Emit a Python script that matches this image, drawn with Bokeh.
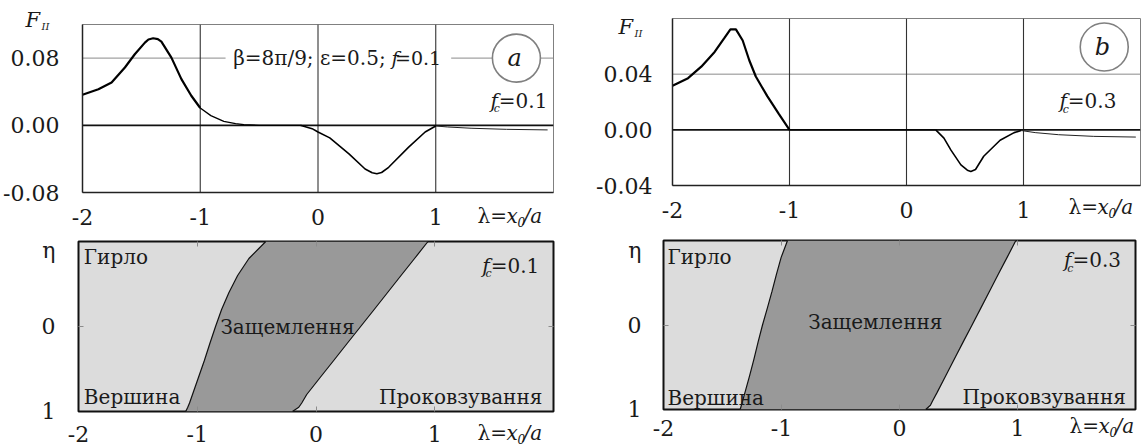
from bokeh.plotting import figure
from bokeh.models import Range1d, FixedTicker, LinearAxis, Span, BoxAnnotation, Label, GridBox
from bokeh.embed import file_html
from bokeh.resources import INLINE

TXT = "#1a1a1a"
FONT = "DejaVu Serif"
TICK_SIZE = "22px"

# ---------------- data ----------------
x_ticks = [-2, -1, 0, 1]
x_tick_labels = {-2: "-2", -1: "-1", 0: "0", 1: "1"}

ya_ticks = [-0.08, 0.0, 0.08]
ya_labels = {-0.08: "-0.08", 0.0: "0.00", 0.08: "0.08"}
yb_ticks = [-0.04, 0.0, 0.04]
yb_labels = {-0.04: "-0.04", 0.0: "0.00", 0.04: "0.04"}

# panel a (f_c = 0.1)
a_peak_x = [-2.0, -1.865, -1.753, -1.64, -1.556, -1.47, -1.44, -1.40, -1.36, -1.33, -1.245, -1.16, -1.076, -1.0]
a_peak_F = [0.0364, 0.043, 0.051, 0.0688, 0.0846, 0.0984, 0.1022, 0.1036, 0.1025, 0.0996, 0.0806, 0.055, 0.0352, 0.0206]
a_decay_x = [-1.0, -0.91, -0.80, -0.70, -0.63, -0.5, -0.3, -0.15]
a_decay_F = [0.0206, 0.0115, 0.0047, 0.002, 0.0008, 0.0, 0.0, 0.0]
a_dip_x = [-0.15, -0.05, 0.0, 0.1, 0.263, 0.40, 0.46, 0.5, 0.54, 0.60, 0.77, 0.91, 1.0]
a_dip_F = [0.0, -0.004, -0.008, -0.015, -0.034, -0.052, -0.0565, -0.0576, -0.0562, -0.050, -0.026, -0.008, -0.0008]
a_tail_x = [1.0, 1.1, 1.3, 1.6, 1.95]
a_tail_F = [-0.0008, -0.002, -0.0035, -0.0048, -0.0055]

# panel b (f_c = 0.3)
b_peak_x = [-2.0, -1.867, -1.754, -1.64, -1.556, -1.505, -1.458, -1.40, -1.344, -1.288, -1.19, -1.09, -1.0]
b_peak_F = [0.0317, 0.0371, 0.0454, 0.056, 0.066, 0.0722, 0.0722, 0.0642, 0.050, 0.0383, 0.0242, 0.0113, 0.0]
b_flat_x = [-1.0, 0.25]
b_flat_F = [0.0, 0.0]
b_dip_x = [0.25, 0.32, 0.38, 0.465, 0.52, 0.55, 0.59, 0.66, 0.80, 0.92, 0.98]
b_dip_F = [0.0, -0.006, -0.0146, -0.0252, -0.0290, -0.0299, -0.0285, -0.019, -0.0075, -0.002, -0.0005]
b_tail_x = [0.98, 1.1, 1.3, 1.6, 1.96]
b_tail_F = [-0.0005, -0.002, -0.0035, -0.0047, -0.0052]

# contact zones (eta = -1 at the top, 1 at the bottom)
eta = [-1.0, -0.8, -0.6, -0.4, -0.2, 0.0, 0.2, 0.4, 0.6, 0.8, 0.9, 0.95, 1.0]
c_left = [-0.423, -0.565, -0.66, -0.733, -0.795, -0.846, -0.894, -0.94, -0.99, -1.04, -1.065, -1.08, -1.097]
c_right = [0.943, 0.83, 0.716, 0.603, 0.49, 0.376, 0.262, 0.149, 0.035, -0.078, -0.12, -0.145, -0.199]
d_left = [-0.949, -1.003, -1.043, -1.08, -1.12, -1.161, -1.198, -1.233, -1.27, -1.31, -1.33, -1.34, -1.35]
d_right = [0.986, 0.912, 0.837, 0.763, 0.689, 0.615, 0.540, 0.466, 0.392, 0.318, 0.280, 0.262, 0.222]
eta_ticks = [-1, 0, 1]
eta_labels = {-1: "η", 0: "0", 1: "1"}


# ---------------- helpers ----------------
def lab(p, x, y, text, size=20, style="normal", align="left", baseline="middle", xo=0, yo=0, color=TXT):
    p.add_layout(Label(x=x, y=y, text=text, text_font=FONT, text_font_size=f"{size}px",
                       text_font_style=style, text_align=align, text_baseline=baseline,
                       x_offset=xo, y_offset=yo, text_color=color))


def fc_label(p, x, y, val):
    lab(p, x, y, "f", style="italic", align="right", xo=-1)
    lab(p, x, y, "c", size=11, style="italic", align="right", xo=1, yo=-8)
    lab(p, x, y, "=" + val)


def no_align(p):
    if "frame_align" in p.properties():
        p.frame_align = False


def base_fig(w, h, l, r, t, b, yr, minor=None):
    p = figure(width=w, height=h, min_border_left=l, min_border_right=r,
               min_border_top=t, min_border_bottom=b, x_range=Range1d(-2, 2), y_range=yr,
               output_backend="svg", toolbar_location=None, tools="")
    no_align(p)
    p.xgrid.visible = False
    p.ygrid.visible = False
    p.border_fill_color = "white"
    for ax in (p.xaxis[0], p.yaxis[0]):
        ax.major_label_text_font = FONT
        ax.major_label_text_font_size = TICK_SIZE
        ax.major_label_text_color = TXT
        ax.minor_tick_line_color = None
    p.xaxis.ticker = FixedTicker(ticks=x_ticks, minor_ticks=minor or [])
    p.xaxis.major_label_overrides = x_tick_labels
    return p


def top_fig(w, h, l, r, t, b, ylo, yhi, yt, yl, ygrid, xs, ys):
    p = base_fig(w, h, l, r, t, b, Range1d(ylo, yhi))
    p.yaxis.ticker = FixedTicker(ticks=yt)
    p.yaxis.major_label_overrides = yl
    for ax in (p.xaxis[0], p.yaxis[0]):
        ax.major_tick_line_color = None
        ax.axis_line_color = "#222222"
        ax.axis_line_width = 1.5
    p.xaxis.major_label_standoff = xs
    p.yaxis.major_label_standoff = ys
    p.outline_line_color = "#808080"
    p.outline_line_width = 1
    p.add_layout(Span(location=ygrid, dimension="width", line_color="#8a8a8a", line_width=1, level="underlay"))
    return p


def add_vlines(p):
    for xv in (-1, 0, 1):
        p.add_layout(Span(location=xv, dimension="height", line_color="#333333", line_width=1.1, level="underlay"))
    p.add_layout(Span(location=0, dimension="width", line_color="#111111", line_width=1.8, level="underlay"))


# ---------------- panel a ----------------
pa = top_fig(593, 237, 79, 40, 24, 45, -0.08, 0.12, ya_ticks, ya_labels, 0.08, 10, 17)
pa.add_layout(BoxAnnotation(left=-0.785, right=1.131, bottom=0.0646, top=0.0954,
                            fill_color="white", fill_alpha=1.0, line_color=None, level="underlay"))
add_vlines(pa)
pa.line(a_peak_x, a_peak_F, line_color="black", line_width=2.2)
pa.line(a_decay_x, a_decay_F, line_color="black", line_width=1.3)
pa.line(a_dip_x, a_dip_F, line_color="black", line_width=1.6)
pa.line(a_tail_x, a_tail_F, line_color="#222222", line_width=1)
pa.scatter([1.685], [0.08], size=48, marker="circle", fill_color="white", line_color="#808080", line_width=1.6)
lab(pa, 1.67, 0.08, "a", size=24, style="italic", align="center")
lab(pa, -0.72, 0.08, "β=8π/9; ε=0.5;", size=20)
lab(pa, 0.684, 0.08, "f", size=19, style="italic", align="right")
lab(pa, 1.046, 0.08, "=0.1", size=19, align="right")
fc_label(pa, 1.536, 0.0293, "0.1")

# ---------------- panel b ----------------
pb = top_fig(548, 237, 76, 1, 18, 52, -0.04, 0.08, yb_ticks, yb_labels, 0.04, 10, 14)
add_vlines(pb)
pb.line(b_peak_x, b_peak_F, line_color="black", line_width=2.2)
pb.line(b_flat_x, b_flat_F, line_color="black", line_width=1.3)
pb.line(b_dip_x, b_dip_F, line_color="black", line_width=1.6)
pb.line(b_tail_x, b_tail_F, line_color="#222222", line_width=1)
pb.scatter([1.69], [0.0595], size=48, marker="circle", fill_color="white", line_color="#808080", line_width=1.6)
lab(pb, 1.675, 0.0595, "b", size=24, style="italic", align="center")
fc_label(pb, 1.379, 0.0207, "0.3")


# ---------------- contact-zone panels ----------------
def tick_axis(minor):
    return LinearAxis(ticker=FixedTicker(ticks=[], minor_ticks=minor), axis_line_color=None,
                      major_tick_line_color=None, minor_tick_in=5, minor_tick_out=0,
                      minor_tick_line_color="#8c8c8c", major_label_standoff=0)


def region_fig(w, h, l, r, t, b, left, right, xs, ys):
    p = base_fig(w, h, l, r, t, b, Range1d(1, -1), minor=[-1, 0, 1])
    p.background_fill_color = "#dcdcdc"
    p.outline_line_color = "#111111"
    p.outline_line_width = 2
    p.yaxis.ticker = FixedTicker(ticks=eta_ticks, minor_ticks=[0])
    p.yaxis.major_label_overrides = eta_labels
    p.yaxis.major_label_standoff = ys
    p.xaxis.major_label_standoff = xs
    for ax in (p.xaxis[0], p.yaxis[0]):
        ax.axis_line_color = None
        ax.major_tick_line_color = None
        ax.minor_tick_line_color = "#8c8c8c"
        ax.minor_tick_in = 5
        ax.minor_tick_out = 0
    p.add_layout(tick_axis([-1, 0, 1]), "above")
    p.add_layout(tick_axis([0]), "right")
    p.harea(y=eta, x1=left, x2=right, fill_color="#999999")
    p.line(left, eta, line_color="#111111", line_width=1.2)
    p.line(right, eta, line_color="#111111", line_width=1.2)
    return p


pc = region_fig(593, 209, 78, 40, 4, 35, c_left, c_right, 8, 17)
lab(pc, -1.955, -0.812, "Гирло")
lab(pc, -1.955, 0.835, "Вершина")
lab(pc, -0.24, 0.0, "Защемлення", align="center")
lab(pc, 1.906, 0.835, "Проковзування", align="right")
fc_label(pc, 1.471, -0.714, "0.1")

pd = region_fig(548, 209, 70, 6, 3, 37, d_left, d_right, 4, 16)
lab(pd, -1.966, -0.803, "Гирло")
lab(pd, -1.966, 0.866, "Вершина")
lab(pd, -0.205, -0.035, "Защемлення", align="center")
lab(pd, 1.918, 0.851, "Проковзування", align="right")
fc_label(pd, 1.466, -0.764, "0.3")

# ---------------- transparent overlay (page pixels) for texts outside the frames ----------------
ov = figure(width=1141, height=446, x_range=Range1d(0, 1141), y_range=Range1d(446, 0),
            min_border=0, x_axis_location=None, y_axis_location=None,
            output_backend="svg", toolbar_location=None, tools="")
no_align(ov)
ov.grid.visible = False
ov.background_fill_color = None
ov.border_fill_color = None
ov.outline_line_color = None


def lam_label(x, y):
    lab(ov, x, y, "λ=")
    lab(ov, x, y, "x", style="italic", xo=29)
    lab(ov, x, y, "0", size=12, style="italic", xo=40, yo=-6)
    lab(ov, x, y, "/a", style="italic", xo=46)


def f2_label(x, y):
    lab(ov, x, y, "F", size=21, style="italic")
    lab(ov, x, y, "II", size=10, style="italic", xo=16, yo=-7)


lam_label(477, 215)
lam_label(1068, 206)
lam_label(477, 432)
lam_label(1069, 425)
f2_label(25, 19)
f2_label(618, 26)

layout = GridBox(children=[(pa, 0, 0), (pb, 0, 1), (pc, 1, 0), (pd, 1, 1), (ov, 0, 0, 2, 2)])
open("out.html", "w").write(file_html(layout, INLINE))
